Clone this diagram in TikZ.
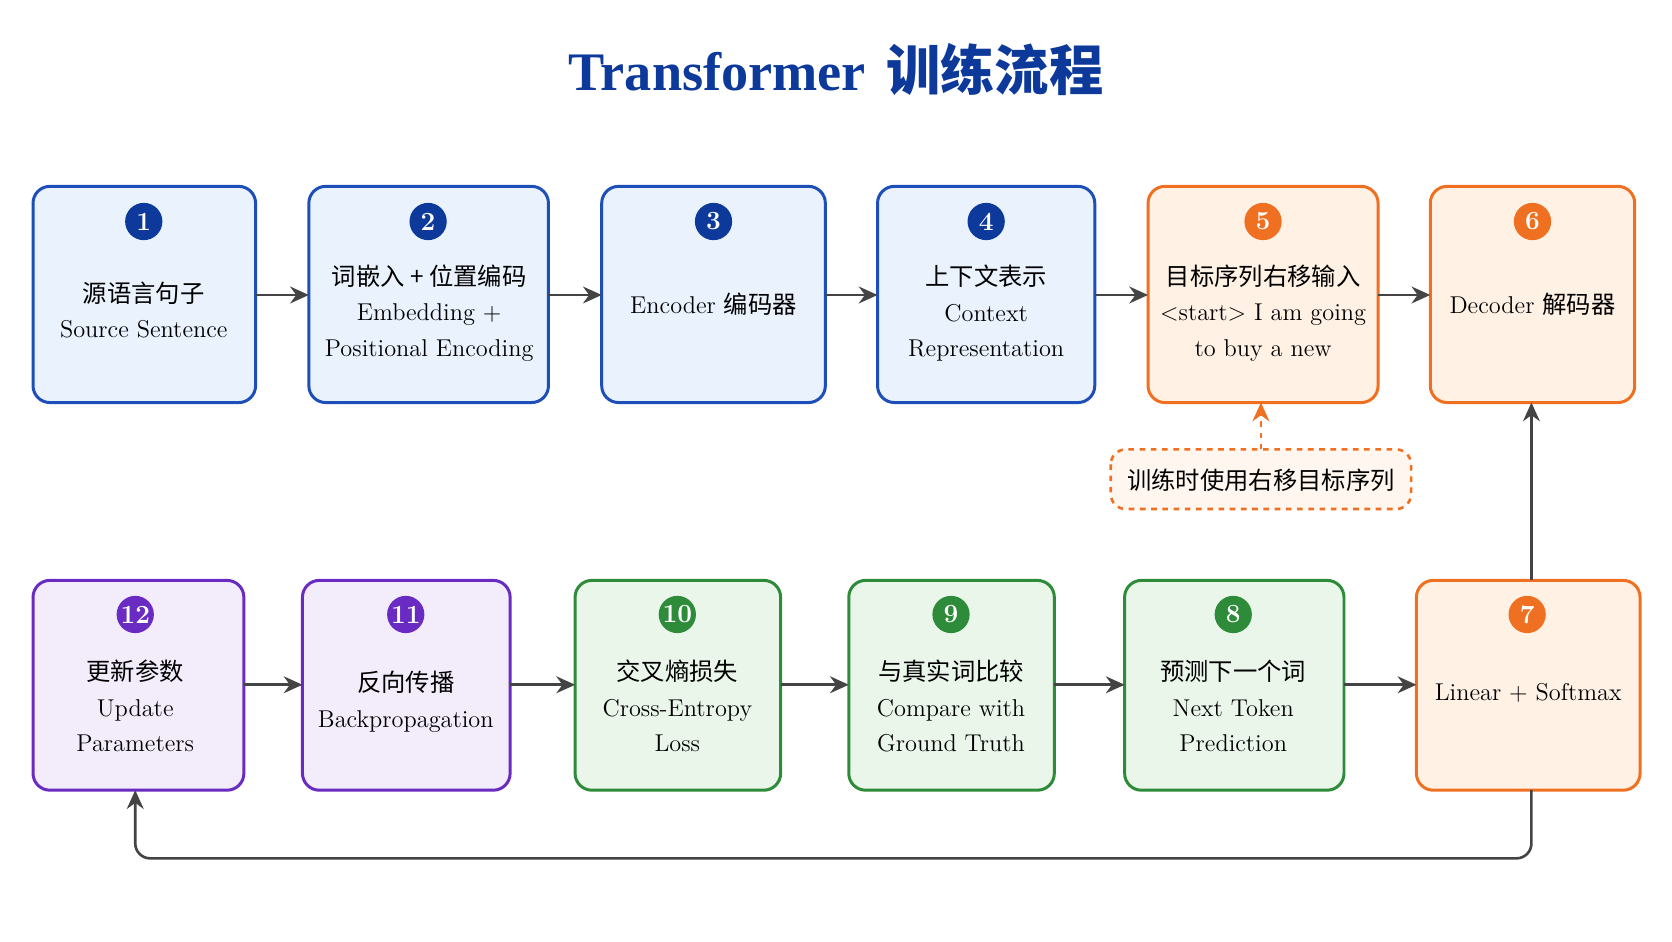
\documentclass[tikz,border=0pt]{standalone}
\usepackage{fontspec}
\newfontfamily\cjk{Noto Sans CJK SC}
\newfontfamily\titlefont{Liberation Serif}
\usetikzlibrary{positioning,arrows.meta}
\definecolor{bluefill}{HTML}{E9F2FD}
\definecolor{blueline}{HTML}{1E4FB8}
\definecolor{bluedark}{HTML}{0D3A9A}
\definecolor{orangefill}{HTML}{FFF1E4}
\definecolor{orangeline}{HTML}{F07022}
\definecolor{greenfill}{HTML}{EBF6EB}
\definecolor{greenline}{HTML}{2E8B3A}
\definecolor{purplefill}{HTML}{F2ECFB}
\definecolor{purpleline}{HTML}{6A2BC2}
\definecolor{arrowgray}{HTML}{444444}
\tikzset{
  step/.style={draw=#1line, fill=#1fill, line width=1.6pt, rounded corners=9pt},
  badge/.style={circle, fill=#1, text=white, inner sep=0pt, minimum size=0.7cm,
    font=\bfseries\fontsize{14}{14}\selectfont},
  label/.style={align=center, font=\fontsize{13}{19}\selectfont},
  flow/.style={-{Stealth[length=10pt,width=9pt]}, draw=arrowgray, line width=1.4pt}
}
\begin{document}
\begin{tikzpicture}[x=0.02cm,y=-0.02cm]
  \useasboundingbox (0,0) rectangle (1570,884);
  \fill[white] (0,0) rectangle (1570,884);

  % Title
  \node (title) at (785,65) {\fontsize{29}{30}\selectfont\bfseries\color{bluedark}{\titlefont Transformer} {\cjk 训练流程}};

  % Top row
  \draw[step=blue] (31,175) rectangle (240,378);
  \draw[step=blue] (290,175) rectangle (515,378);
  \draw[step=blue] (565,175) rectangle (775,378);
  \draw[step=blue] (824,175) rectangle (1028,378);
  \draw[step=orange] (1078,175) rectangle (1294,378);
  \draw[step=orange] (1343,175) rectangle (1535,378);
  \coordinate (s1w) at (31,277);  \coordinate (s1e) at (240,277);
  \coordinate (s2w) at (290,277); \coordinate (s2e) at (515,277);
  \coordinate (s3w) at (565,277); \coordinate (s3e) at (775,277);
  \coordinate (s4w) at (824,277); \coordinate (s4e) at (1028,277);
  \coordinate (s5w) at (1078,277);\coordinate (s5e) at (1294,277);
  \coordinate (s5s) at (1184,378);
  \coordinate (s6w) at (1343,277);\coordinate (s6s) at (1438,378);

  \node[badge=bluedark] (b1) at (135,208) {1};
  \node[badge=bluedark] (b2) at (402,208) {2};
  \node[badge=bluedark] (b3) at (670,208) {3};
  \node[badge=bluedark] (b4) at (926,208) {4};
  \node[badge=orangeline] (b5) at (1186,208) {5};
  \node[badge=orangeline] (b6) at (1439,208) {6};

  \node[label] (t1) at (135,291) {{\cjk 源语言句子}\\Source Sentence};
  \node[label] (t2) at (403,294) {{\cjk 词嵌入 + 位置编码}\\Embedding +\\Positional Encoding};
  \node[label] (t3) at (670,286) {Encoder {\cjk 编码器}};
  \node[label] (t4) at (926,294) {{\cjk 上下文表示}\\Context\\Representation};
  \node[label] (t5) at (1186,294) {{\cjk 目标序列右移输入}\\<start> I am going\\to buy a new};
  \node[label] (t6) at (1439,286) {Decoder {\cjk 解码器}};

  % Bottom row
  \draw[step=purple] (31,545) rectangle (229,742);
  \draw[step=purple] (284,545) rectangle (479,742);
  \draw[step=green] (540,545) rectangle (733,742);
  \draw[step=green] (797,545) rectangle (990,742);
  \draw[step=green] (1056,545) rectangle (1262,742);
  \draw[step=orange] (1330,545) rectangle (1540,742);
  \coordinate (s12e) at (229,643); \coordinate (s12s) at (127,742);
  \coordinate (s11w) at (284,643); \coordinate (s11e) at (479,643);
  \coordinate (s10w) at (540,643); \coordinate (s10e) at (733,643);
  \coordinate (s9w) at (797,643);  \coordinate (s9e) at (990,643);
  \coordinate (s8w) at (1056,643); \coordinate (s8e) at (1262,643);
  \coordinate (s7w) at (1330,643); \coordinate (s7n) at (1438,545);
  \coordinate (s7s) at (1438,742);

  \node[badge=purpleline] (b12) at (127,577) {12};
  \node[badge=purpleline] (b11) at (381,577) {11};
  \node[badge=greenline] (b10) at (636,577) {10};
  \node[badge=greenline] (b9) at (893,577) {9};
  \node[badge=greenline] (b8) at (1158,577) {8};
  \node[badge=orangeline] (b7) at (1434,577) {7};

  \node[label] (t12) at (127,663) {{\cjk 更新参数}\\Update\\Parameters};
  \node[label] (t11) at (381,659) {{\cjk 反向传播}\\Backpropagation};
  \node[label] (t10) at (636,663) {{\cjk 交叉熵损失}\\Cross-Entropy\\Loss};
  \node[label] (t9) at (893,663) {{\cjk 与真实词比较}\\Compare with\\Ground Truth};
  \node[label] (t8) at (1158,663) {{\cjk 预测下一个词}\\Next Token\\Prediction};
  \node[label] (t7) at (1435,651) {Linear + Softmax};

  % Note
  \draw[draw=orangeline, fill=orangefill!60, dashed, line width=1.4pt, rounded corners=8pt]
    (1043,422) rectangle (1325,478);
  \node[label] (note) at (1184,451) {\cjk 训练时使用右移目标序列};
  \coordinate (noteN) at (1184,422);

  % Arrows
  \draw[flow] (s1e) -- (s2w);
  \draw[flow] (s2e) -- (s3w);
  \draw[flow] (s3e) -- (s4w);
  \draw[flow] (s4e) -- (s5w);
  \draw[flow] (s5e) -- (s6w);
  \draw[flow] (s12e) -- (s11w);
  \draw[flow] (s11e) -- (s10w);
  \draw[flow] (s10e) -- (s9w);
  \draw[flow] (s9e) -- (s8w);
  \draw[flow] (s8e) -- (s7w);
  \draw[flow] (s7n) -- (s6s);
  \draw[flow, rounded corners=8pt] (s7s) -- (1438,806) -- (127,806) -- (s12s);
  \draw[flow, draw=orangeline, dashed] (noteN) -- (s5s);
\end{tikzpicture}
\end{document}
